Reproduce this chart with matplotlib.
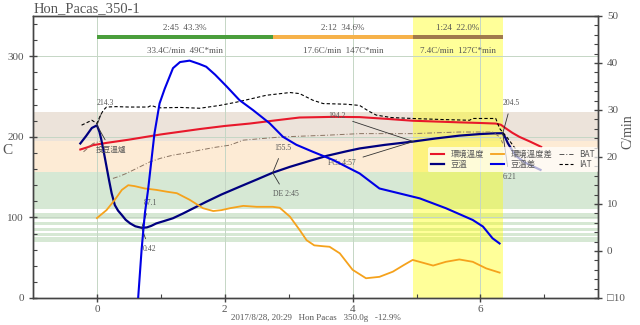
import numpy as np
import matplotlib
matplotlib.use('Agg')
from matplotlib import pyplot as plt
from matplotlib.lines import Line2D

nan = np.nan

# bean temperature (C) vs time (min)
bt_time = [-0.26, -0.17, -0.08, 0.0, 0.04, 0.07, 0.11, 0.15, 0.19, 0.23, 0.28, 0.33, 0.39,
           0.45, 0.52, 0.6, 0.7, 0.78, 0.85, 0.93, 1.05, 1.19, 1.35, 1.5, 1.71, 1.95, 2.23,
           2.5, 2.75, 3.02, 3.3, 3.6, 3.9, 4.11, 4.5, 4.95, 5.3, 5.67, 6.0, 6.2, 6.35, 6.39,
           6.43, 6.5, 6.56, 6.7, 6.94]
bt = [191.8, 201.0, 211.0, 214.3, 206.0, 196.0, 180.0, 163.0, 146.0, 130.0, 115.3, 108.5, 102.9,
      97.0, 92.6, 89.0, 87.1, 87.6, 89.5, 92.6, 95.5, 99.0, 105.0, 111.0, 119.4, 128.5, 138.0,
      147.0, 155.5, 162.8, 169.5, 176.5, 182.0, 185.6, 190.0, 194.2, 198.0, 201.5, 203.5, 204.3, 204.5,
      199.0, 192.0, 183.0, 176.0, 168.0, 159.0]

# environment temperature
et_time = [-0.26, -0.15, -0.06, 0.0, 0.15, 0.5, 1.0, 1.61, 2.0, 2.39, 2.8, 3.17, 3.5, 3.69,
           4.11, 4.5, 4.94, 5.3, 5.67, 6.0, 6.24, 6.32, 6.4, 6.5, 6.61, 6.78, 6.95]
et = [184.3, 187.0, 189.7, 190.5, 192.5, 196.5, 203.0, 209.7, 213.5, 216.5, 220.5, 224.0, 224.5, 224.8,
      224.5, 222.5, 220.0, 219.0, 218.0, 217.2, 216.5, 215.0, 210.4, 205.0, 200.0, 194.0, 187.6]

# extra probes
iat_time = [-0.24, -0.08, 0.0, 0.05, 0.1, 0.15, 0.3, 0.5, 0.8, 0.85, 0.92, 1.0, 1.3, 1.61,
            1.92, 2.18, 2.4, 2.65, 3.02, 3.17, 3.38, 3.54, 3.9, 4.11, 4.25, 4.37, 4.6, 4.94,
            5.4, 5.83, 5.88, 6.0, 6.24, 6.3, 6.43, 6.55, 6.7]
iat = [214.5, 220.6, 216.6, 226.0, 233.0, 237.0, 237.5, 237.0, 237.0, 239.0, 237.0, 236.0, 236.5, 235.5,
       239.0, 243.0, 247.0, 251.6, 255.0, 253.7, 245.4, 241.3, 240.5, 239.0, 232.0, 227.0, 224.0, 222.8,
       221.5, 220.6, 222.8, 222.8, 222.8, 210.4, 198.0, 185.0, 172.0]

bat_time = [-0.21, -0.13, -0.06, 0.05, 0.12, 0.25, 0.35, 0.46, 0.6, 0.83, 1.0, 1.19, 1.4, 1.61,
            1.85, 2.08, 2.29, 2.6, 2.91, 3.25, 3.59, 4.11, 4.5, 4.94, 5.3, 5.67, 6.0, 6.19, 6.3, 6.35]
bat = [181.4, 187.0, 191.8, 194.5, nan, 148.4, 151.0, 154.6, 160.0, 169.0, 173.5, 177.3, 180.0, 183.5,
       187.0, 189.7, 195.9, 198.0, 200.0, 201.0, 202.0, 204.0, 204.0, 204.0, 205.0, 206.0, 206.0, 206.0,
       200.0, 192.0]

# rate of rise (C/min)
ror_bt_time = [0.6, 0.645, 0.7, 0.75, 0.8, 0.85, 0.9, 0.98, 1.06, 1.19, 1.3, 1.45, 1.6, 1.71,
               1.85, 2.03, 2.23, 2.44, 2.7, 2.91, 3.12, 3.38, 3.69, 3.95, 4.11, 4.42, 4.84,
               5.05, 5.46, 5.88, 6.04, 6.19, 6.3]
ror_bt = [-20.0, -10.0, 0.5, 8.0, 13.0, 19.0, 25.0, 31.4, 34.5, 38.9, 40.2, 40.5, 39.8, 39.2,
          37.5, 35.0, 32.1, 30.0, 27.2, 24.3, 22.6, 21.1, 19.4, 17.6, 16.5, 13.3, 11.9,
          11.2, 9.1, 6.6, 5.2, 2.7, 1.6]

ror_et_time = [0.0, 0.15, 0.28, 0.39, 0.49, 0.59, 0.75, 0.93, 1.1, 1.25, 1.45, 1.66, 1.82, 1.95,
               2.08, 2.29, 2.5, 2.75, 2.86, 3.02, 3.17, 3.28, 3.4, 3.55, 3.64, 3.8, 4.0, 4.21,
               4.42, 4.63, 4.8, 4.94, 5.1, 5.26, 5.46, 5.67, 5.88, 6.09, 6.3]
ror_et = [7.0, 8.7, 10.9, 13.0, 14.0, 13.8, 13.3, 13.0, 12.6, 12.3, 10.9, 9.1, 8.5, 8.7,
          9.1, 9.6, 9.4, 9.4, 9.2, 7.3, 4.5, 2.3, 1.2, 1.0, 0.9, -0.5, -4.0, -5.8,
          -5.5, -4.4, -3.0, -1.9, -2.5, -3.1, -2.3, -1.8, -2.3, -3.7, -4.6]

# roast events: (label below, time, BT)
events = [('投豆溫爐', 0.0, 214.3), ('0:42', 0.7, 87.1), ('DE 2:45', 2.75, 155.5),
          ('FCs 4:57', 4.95, 194.2), ('6:21', 6.35, 204.5)]
event_text_above = [(0.13, 241.7), (0.83, 118.0), (2.91, 186.3), (3.76, 225.6), (6.48, 242.0)]
event_text_below = [(0.22, 183.5), (0.82, 60.3), (2.95, 128.5), (3.84, 167.0), (6.45, 149.6)]

# phases: start, end, header, stats
phase_start = [0.0, 2.75, 4.95]
phase_end = [2.75, 4.95, 6.35]
phase_head = ['2:45  43.3%', '2:12  34.6%', '1:24  22.0%']
phase_stats = ['33.4C/min  49C*min', '17.6C/min  147C*min', '7.4C/min  127C*min']
phase_colors = ['#4a9e3c', '#f6b24a', '#a07a4c']

serif = ['Liberation Serif', 'DejaVu Serif']
cjk = ['Noto Sans CJK TC', 'DejaVu Sans']
grey = '#555555'

fig = plt.figure(figsize=(6.4, 3.25), dpi=100)
ax = fig.add_axes([0.0516, 0.0831, 0.8828, 0.8677])
ax2 = ax.twinx()

ax.set_xlim(-1.0, 7.84)
ax.set_ylim(0, 350)
ax2.set_ylim(-10, 50)

# temperature bands
ax.axhspan(195, 230.5, color='#ece3da', lw=0, zorder=0)
ax.axhspan(156, 195, color='#fdebd5', lw=0, zorder=0)
ax.axhspan(69.5, 156, color='#d6e8d4', lw=0, zorder=0)
for lo, hi in [(105.0, 110.0), (94.6, 97.6), (87.1, 90.5), (80.9, 83.4), (75.2, 76.9)]:
    ax.axhspan(lo, hi, color='white', lw=0, zorder=0)

# finishing phase highlight
ax.axvspan(phase_start[2], phase_end[2], color='#ffff00', alpha=0.4, lw=0, zorder=0.5)

ax.grid(True, color='#c5d6c5', lw=0.7, zorder=0.6)
ax.set_axisbelow(True)

ax.plot(et_time, et, color='#e8182b', lw=1.5, zorder=3)
ax.plot(bt_time, bt, color='#00007f', lw=1.6, zorder=3)
ax.plot(iat_time, iat, color='black', lw=0.8, ls=(0, (3, 2)), zorder=3)
ax.plot(bat_time, bat, color='#8a7462', lw=0.7, ls=(0, (5, 2, 1, 2)), zorder=3)

ax2.plot(ror_et_time, ror_et, color='#f5a21c', lw=1.3, zorder=3)
ax2.plot(ror_bt_time, ror_bt, color='#0000e6', lw=1.5, zorder=3)

# event annotations
for (lab, t, temp), above, below in zip(events, event_text_above, event_text_below):
    ax.annotate(f'{temp:.1f}', xy=(t, temp), xytext=above, ha='center', va='center',
                fontsize=5.5, color=grey, family=serif, zorder=4,
                arrowprops=dict(arrowstyle='-', color='#333333', lw=0.6, shrinkA=3, shrinkB=0))
    ax.annotate(lab, xy=(t, temp), xytext=below, ha='center', va='center',
                fontsize=5.5, color=grey, family=cjk if lab[0] > '~' else serif, zorder=4,
                arrowprops=dict(arrowstyle='-', color='#333333', lw=0.6, shrinkA=3, shrinkB=0))

# phase bar across the top
for s, e, h, st, c in zip(phase_start, phase_end, phase_head, phase_stats, phase_colors):
    ax.fill_between([s, e], 321.9, 326.9, color=c, lw=0, zorder=4)
    ax.text((s + e) / 2, 334.7, h, ha='center', va='center', fontsize=6.5, color=grey, family=serif)
    ax.text((s + e) / 2, 306.0, st, ha='center', va='center', fontsize=6.5, color=grey, family=serif)

# ticks and spines
ax.set_xticks([0, 2, 4, 6])
ax.set_xticks([1, 3, 5, 7], minor=True)
ax.set_yticks([0, 100, 200, 300])
ax.set_yticks(np.arange(20, 350, 20), minor=True)
ax2.set_yticks([-10, 0, 10, 20, 30, 40, 50])
ax2.set_yticklabels(['□10', '0', '10', '20', '30', '40', '50'])
ax2.set_yticks(np.arange(-10, 50, 2), minor=True)
for a in (ax, ax2):
    a.tick_params(which='major', direction='inout', length=6, width=1.0, color='#444444',
                  labelcolor=grey, labelsize=8)
    a.tick_params(which='minor', direction='in', length=3, width=0.8, color='#444444')
    for lab in a.get_xticklabels() + a.get_yticklabels():
        lab.set_family(serif)
    for sp in a.spines.values():
        sp.set_color('#444444')
        sp.set_linewidth(1.0)
ax.tick_params(axis='x', pad=2)

ax.set_ylabel('C', fontsize=11, color=grey, family=serif, rotation=0, labelpad=10)
ax.yaxis.set_label_coords(-0.045, 0.5)
fig.text(628 / 640, 1 - 132 / 325, 'C/min', rotation=90, fontsize=10, color=grey,
         family=serif, ha='center', va='center')

fig.text(0.052, 0.975, 'Hon_Pacas_350-1', fontsize=10.5, color=grey, family=serif,
         ha='left', va='center')
fig.text(0.494, 0.022, '2017/8/28, 20:29   Hon Pacas   350.0g   -12.9%', fontsize=6.5,
         color=grey, family=serif, ha='center', va='center')

handles = [Line2D([], [], color='#e8182b', lw=1.5), Line2D([], [], color='#00007f', lw=1.6),
           Line2D([], [], color='#f5a21c', lw=1.3), Line2D([], [], color='#0000e6', lw=1.5),
           Line2D([], [], color='#555555', lw=0.7, ls=(0, (5, 2, 1, 2))),
           Line2D([], [], color='black', lw=0.8, ls=(0, (3, 2)))]
labels = ['環境溫度', '豆溫', '環境溫度差', '豆溫差', 'BAT', 'IAT']
leg = ax2.legend(handles, labels, ncol=3, loc='upper right', bbox_to_anchor=(1.0, 0.535),
                 frameon=True, handlelength=1.6, handletextpad=0.8, columnspacing=0.8,
                 labelspacing=0.15, borderpad=0.35, borderaxespad=0,
                 prop={'family': cjk, 'size': 6})
leg.get_frame().set_facecolor('white')
leg.get_frame().set_alpha(0.7)
leg.get_frame().set_linewidth(0)
for t in leg.get_texts():
    t.set_color(grey)
leg.set_zorder(10)

fig.savefig('out.png', dpi=100)
